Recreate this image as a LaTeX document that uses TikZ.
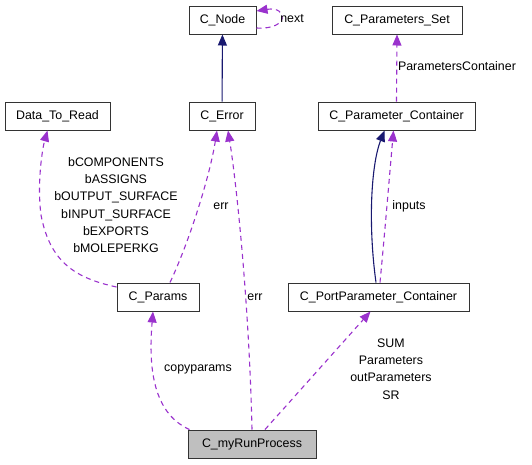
\documentclass[tikz,border=0pt]{standalone}
\usepackage{fontspec}
\setmainfont{Liberation Sans}
\usetikzlibrary{arrows.meta}
\definecolor{dep}{HTML}{9A32CD}
\definecolor{inh}{HTML}{191970}
\definecolor{boxfill}{HTML}{BFBFBF}
\tikzset{
  box/.style={draw=black!80, line width=1pt, fill=white, minimum height=28pt, inner sep=0pt, font=\fontsize{12.4}{15}\selectfont},
  depedge/.style={draw=dep, line width=1.1pt, dash pattern=on 5pt off 4pt, -{Triangle[length=11pt,width=9pt,fill=dep]}},
  inhedge/.style={draw=inh, line width=1.1pt, -{Triangle[length=11pt,width=9pt,fill=inh]}},
  lbl/.style={font=\fontsize{12.4}{17.3}\selectfont, align=center, inner sep=0pt}
}
\begin{document}
\begin{tikzpicture}[x=1pt,y=-1pt]
\useasboundingbox (0,0) rectangle (532,464);
% nodes
\node[box, minimum width=67pt] (cnode) at (222.5,20) {C\_Node};
\node[box, minimum width=130pt] (cps) at (397,20) {C\_Parameters\_Set};
\node[box, minimum width=105pt] (dtr) at (57.5,116) {Data\_To\_Read};
\node[box, minimum width=66pt] (cerr) at (222,116) {C\_Error};
\node[box, minimum width=157pt] (cpc) at (396.5,116) {C\_Parameter\_Container};
\node[box, minimum width=82pt] (cparams) at (158,297) {C\_Params};
\node[box, minimum width=181pt] (cppc) at (378.5,297) {C\_PortParameter\_Container};
\node[box, minimum width=128pt, fill=boxfill] (cmrp) at (252,444) {C\_myRunProcess};

% edges
\draw[inhedge] (cerr) -- (cnode);
\draw[depedge] ([yshift=-8pt]cnode.east) .. controls (290,30) and (288,6) .. ([yshift=9pt]cnode.east);
\node[lbl] (lnext) at (292,19) {next};

\draw[depedge] (cpc.north) -- (cps.south);
\node[lbl] (lpc) at (457,66) {ParametersContainer};

\draw[depedge] ([yshift=10pt]cparams.west) .. controls (75,278) and (50,262) .. (41,215)
  .. controls (37,185) and (42,150) .. ([xshift=-10pt]dtr.south);
\node[lbl] (lb) at (116,205) {bCOMPONENTS\\bASSIGNS\\bOUTPUT\_SURFACE\\bINPUT\_SURFACE\\bEXPORTS\\bMOLEPERKG};

\draw[depedge] ([xshift=12pt]cparams.north) .. controls (190,240) and (210,175) .. ([xshift=-5pt]cerr.south);
\node[lbl] (lerr1) at (221,206) {err};

\draw[depedge] ([xshift=0pt]cmrp.north) .. controls (249,300) and (236,180) .. ([xshift=6pt]cerr.south);
\node[lbl] (lerr2) at (255,297) {err};

\draw[inhedge] ([xshift=-2.5pt]cppc.north) .. controls (368,225) and (371,165) .. ([xshift=-12pt]cpc.south);
\draw[depedge] ([xshift=1.5pt]cppc.north) .. controls (385,230) and (390,170) .. ([xshift=-3pt]cpc.south);
\node[lbl] (linputs) at (409,206) {inputs};

\draw[depedge] ([xshift=2pt]cmrp.north west) .. controls (150,412) and (149,360) .. ([xshift=-5pt]cparams.south);
\node[lbl] (lcopy) at (198,369) {copyparams};

\draw[depedge] ([xshift=13pt]cmrp.north) -- ([xshift=-8pt]cppc.south);
\node[lbl] (lsum) at (391,369) {SUM\\Parameters\\outParameters\\SR};
\end{tikzpicture}
\end{document}
